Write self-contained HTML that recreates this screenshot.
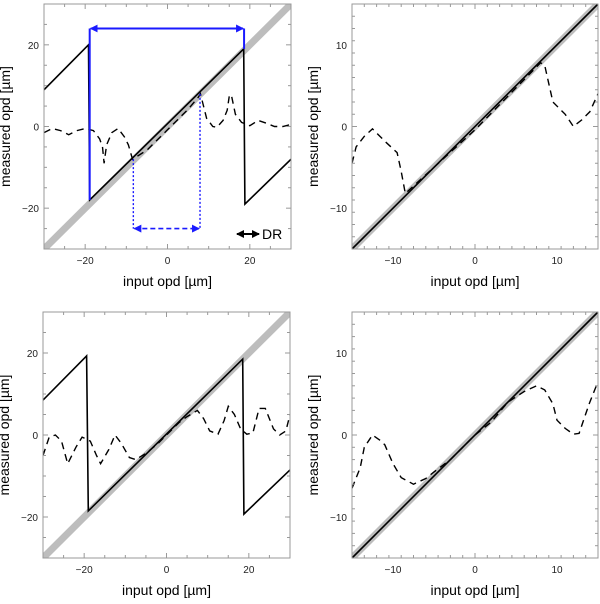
<!DOCTYPE html>
<html><head><meta charset="utf-8"><style>
html,body{margin:0;padding:0;background:#fff;}
svg{display:block;font-family:"Liberation Sans",Arial,sans-serif;}
</style></head><body>
<svg id="fig" width="600" height="604" viewBox="0 0 600 604" xmlns="http://www.w3.org/2000/svg">
<defs>
<marker id="ab" markerWidth="8" markerHeight="8" refX="7" refY="4" orient="auto-start-reverse" markerUnits="userSpaceOnUse"><path d="M0,0 L8,4 L0,8 z" fill="#1a1aff"/></marker>
<marker id="ak" markerWidth="8" markerHeight="8" refX="7" refY="4" orient="auto-start-reverse" markerUnits="userSpaceOnUse"><path d="M0,0 L8,4 L0,8 z" fill="#000"/></marker>
</defs>
</svg>
<script>
// ---- data ----
const tlSolidX = [-30,-19.2,-18.9,18.5,18.8,30];
const tlSolidY = [9,20,-18,19,-19,-8];
const tlDashX = [-30,-28,-26,-24,-22,-20,-18,-16.5,-15.8,-15.4,-14.8,-13.5,-12,-10.5,-9.5,-8.5,-5,0,5,7.5,8,8.5,9.5,11,12,13.5,14.5,15,15.5,16.5,18,20,22,24,26,28,30];
const tlDashY = [-1.5,-0.5,-1,-2,-1,-0.5,-1,-3,-5,-9,-4.5,-1.5,-0.5,-2.5,-4.5,-8,-5.8,-0.8,4.2,7.2,8,6,2,0,-0.2,1.5,4,7.5,7.8,3,1,0.2,1.5,0.8,0,0,0.5];
const trDashX = [-15,-14.5,-13.5,-12.5,-11,-9.5,-9,-8.5,0,8,8.5,9.5,11,12,13,14,15];
const trDashY = [-4.5,-2.5,-1.2,-0.3,-1.8,-3.2,-5.5,-8.2,-0.4,7.8,7.5,3,1.5,0,0.8,1.8,4];
const blSolidX = [-30,-19.4,-19,18.5,18.8,30];
const blSolidY = [8.5,19.3,-18.5,18.5,-19.3,-8.5];
const blDashX = [-30,-28.5,-27,-25.5,-24,-22,-20.5,-18.5,-17,-16,-14,-12.5,-11,-9,-7.5,-5,-2,0,3,5,7.5,9,10.5,12.5,14,15,16.5,18,19.5,21,22.5,24,26,27.5,29,30];
const blDashY = [-5,-0.5,0,-1.5,-7,-3,-0.5,-1.5,-5,-7,-3.5,0,-2,-5.5,-6,-4.5,-2,0,3,4.5,6,4,1,0.2,3.5,7,5,1.5,0.2,0.5,6.5,6.5,1.5,0,1,5];
const brDashX = [-15,-14,-13.5,-12.5,-11.5,-11,-10,-9,-7.5,-6,-5,-3,0,2,4,6,7.5,8.5,9.5,10,11,12,12.7,13.3,14,15];
const brDashY = [-6.5,-4,-1.5,0,-0.7,-1.2,-3.5,-5.2,-6,-5.3,-4.5,-3,0,1.6,4,5.3,6,5.5,3.8,1.8,0.8,0.1,0.2,2,4,6.5];
const bigTicks = [-20,0,20];
const smallTicks = [-10,0,10];

const NS="http://www.w3.org/2000/svg";
const svg=document.getElementById('fig');
function el(tag,attrs,parent){const e=document.createElementNS(NS,tag);for(const k in attrs)e.setAttribute(k,attrs[k]);(parent||svg).appendChild(e);return e;}

function panel(p){
  const g=el('g',{});
  
  
  const sx=v=>p.x0+(v-p.min)/(p.max-p.min)*(p.x1-p.x0);
  const sy=v=>p.y1-(v-p.min)/(p.max-p.min)*(p.y1-p.y0);
  const cp=el('clipPath',{id:'c'+p.name},g);
  el('rect',{x:p.x0,y:p.y0,width:p.x1-p.x0,height:p.y1-p.y0},cp);
  const band=el('line',{x1:sx(p.min),y1:sy(p.min),x2:sx(p.max),y2:sy(p.max),stroke:'#bdbdbd','stroke-width':7,'clip-path':'url(#c'+p.name+')'},g);
  
  
  const pts=(xs,ys)=>xs.map((x,i)=>sx(x).toFixed(1)+','+sy(ys[i]).toFixed(1)).join(' ');
  if(p.solidX){
    const s=el('polyline',{points:pts(p.solidX,p.solidY),fill:'none',stroke:'#000','stroke-width':1.6,'clip-path':'url(#c'+p.name+')'},g);
    
    
  } else {
    const s=el('line',{x1:sx(p.min),y1:sy(p.min),x2:sx(p.max),y2:sy(p.max),stroke:'#000','stroke-width':1.6},g);
    
    
  }
  const d=el('polyline',{points:pts(p.dashX,p.dashY),fill:'none',stroke:'#000','stroke-width':1.4,'stroke-dasharray':'7,5','clip-path':'url(#c'+p.name+')'},g);
  
  
  if(p.extra)p.extra(g,sx,sy);
  const fr=el('rect',{x:p.x0,y:p.y0,width:p.x1-p.x0,height:p.y1-p.y0,fill:'none',stroke:'#999','stroke-width':1},g);
  
  
  for(let v=p.min+p.step;v<p.max;v+=p.step){
    const major=p.ticks.includes(Math.round(v*100)/100);const L=major?5:3;
    el('line',{x1:sx(v),y1:p.y1,x2:sx(v),y2:p.y1-L,stroke:'#999'},g);
    el('line',{x1:sx(v),y1:p.y0,x2:sx(v),y2:p.y0+L,stroke:'#999'},g);
    el('line',{x1:p.x0,y1:sy(v),x2:p.x0+L,y2:sy(v),stroke:'#999'},g);
    el('line',{x1:p.x1,y1:sy(v),x2:p.x1-L,y2:sy(v),stroke:'#999'},g);
  }
  p.ticks.forEach(v=>{
    const lab=(v<0?'\u2212':'')+Math.abs(v);
    const tx=el('text',{x:sx(v),y:p.y1+15,'font-size':10,'text-anchor':'middle',fill:'#222'},g);tx.textContent=lab;
    
    
    const ty=el('text',{x:p.x0-5,y:sy(v)+4,'font-size':10,'text-anchor':'end',fill:'#222'},g);ty.textContent=lab;
    
    
  });
  const xt=el('text',{x:(p.x0+p.x1)/2,y:p.y1+37,'font-size':14,'text-anchor':'middle'},g);xt.textContent='input opd [\u00b5m]';
  
  
  const cy=(p.y0+p.y1)/2, cx=p.x0-34;
  const yt=el('text',{x:cx,y:cy,'font-size':14,'text-anchor':'middle',transform:`rotate(-90 ${cx} ${cy})`},g);yt.textContent='measured opd [\u00b5m]';
  
  
}

panel({name:'panel-top-left',x0:44,x1:291,y0:4,y1:249,min:-30,max:30,step:5,ticks:bigTicks,solidX:tlSolidX,solidY:tlSolidY,dashX:tlDashX,dashY:tlDashY,
extra:(g,sx,sy)=>{
  el('polyline',{points:`${sx(-18.9)},${sy(-18)} ${sx(-18.9)},${sy(24)}`,fill:'none',stroke:'#1a1aff','stroke-width':2},g);
  el('polyline',{points:`${sx(18.6)},${sy(19)} ${sx(18.6)},${sy(24)}`,fill:'none',stroke:'#1a1aff','stroke-width':2},g);
  const a=el('line',{x1:sx(-18.9)+1,y1:sy(24),x2:sx(18.6)-1,y2:sy(24),stroke:'#1a1aff','stroke-width':2,'marker-start':'url(#ab)','marker-end':'url(#ab)'},g);
  
  
  el('line',{x1:sx(-8.3),y1:sy(-8),x2:sx(-8.3),y2:sy(-25),stroke:'#1a1aff','stroke-width':1.4,'stroke-dasharray':'2,2'},g);
  el('line',{x1:sx(7.9),y1:sy(8),x2:sx(7.9),y2:sy(-25),stroke:'#1a1aff','stroke-width':1.4,'stroke-dasharray':'2,2'},g);
  const b=el('line',{x1:sx(-8.3)+1,y1:sy(-25),x2:sx(7.9)-1,y2:sy(-25),stroke:'#1a1aff','stroke-width':1.6,'stroke-dasharray':'5,3','marker-start':'url(#ab)','marker-end':'url(#ab)'},g);
  
  
  const k=el('line',{x1:237,y1:234,x2:259,y2:234,stroke:'#000','stroke-width':2,'marker-start':'url(#ak)','marker-end':'url(#ak)'},g);
  
  
  const t=el('text',{x:262,y:239,'font-size':14},g);t.textContent='DR';
  
  
}});
panel({name:'panel-top-right',x0:352,x1:598,y0:4,y1:249,min:-15,max:15,step:1.5,ticks:smallTicks,dashX:trDashX,dashY:trDashY});
panel({name:'panel-bottom-left',x0:43,x1:290,y0:312,y1:558,min:-30,max:30,step:5,ticks:bigTicks,solidX:blSolidX,solidY:blSolidY,dashX:blDashX,dashY:blDashY});
panel({name:'panel-bottom-right',x0:352,x1:598,y0:312,y1:558,min:-15,max:15,step:1.5,ticks:smallTicks,dashX:brDashX,dashY:brDashY});
</script>
</body></html>
